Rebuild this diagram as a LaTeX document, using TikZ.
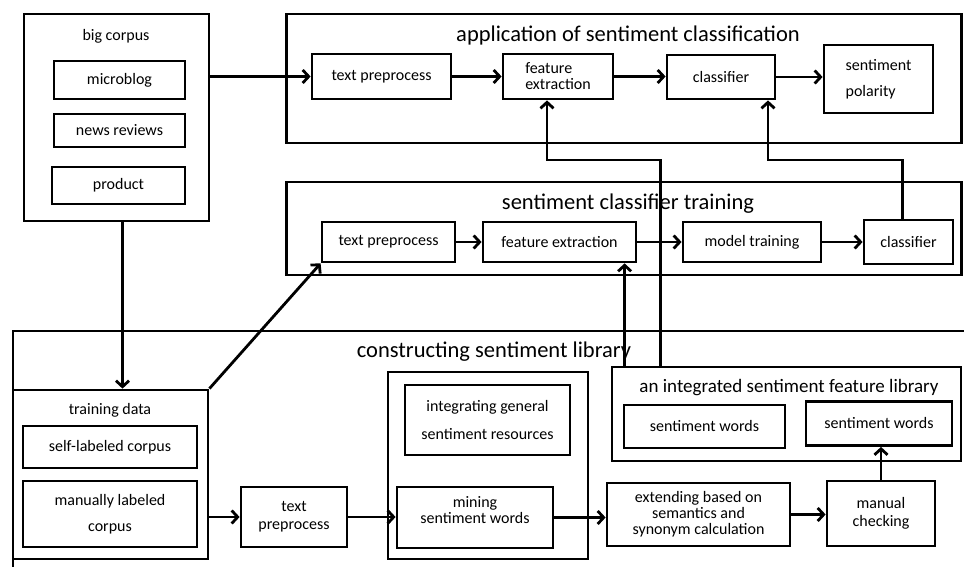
\documentclass[tikz,border=0pt]{standalone}
\usepackage{fontspec}
\setmainfont{Carlito}
\usetikzlibrary{arrows.meta}

\begin{document}
\begin{tikzpicture}[x=1pt,y=-1pt,
  box/.style={draw,line width=2.8pt,inner sep=0pt,align=center,font=\fontsize{16}{18}\selectfont},
  ttl/.style={inner sep=0pt,font=\fontsize{22.5}{26}\selectfont},
  lbl/.style={inner sep=0pt,font=\fontsize{16}{18}\selectfont},
  arr/.style={line width=2.8pt,-{Straight Barb[length=6pt,width=13pt]}}]
\useasboundingbox (0,0) rectangle (964,567);
\fill[white] (0,0) rectangle (964,567);

% big corpus
\node[box,minimum width=185pt,minimum height=207pt] (bigcorpus) at (116.5,117.5) {};
\node[lbl] (bigcorpuslbl) at (116,36) {big corpus};
\node[box,minimum width=131pt,minimum height=38pt] (microblog) at (119.5,80) {microblog};
\node[box,minimum width=131pt,minimum height=33pt] (news) at (119.5,130.5) {news reviews};
\node[box,minimum width=133pt,minimum height=37pt] (product) at (118.5,185.5) {product};

% application of sentiment classification
\node[box,minimum width=675pt,minimum height=129pt] (app) at (624,78.5) {};
\node[ttl] (applbl) at (628,36) {application of sentiment classification};
\node[box,minimum width=139pt,minimum height=45pt] (apptp) at (381.5,76.5) {text preprocess};
\node[box,minimum width=110pt,minimum height=45pt,align=left,font=\fontsize{16}{16}\selectfont] (appfe) at (558,76.5) {feature\\extraction};
\node[box,minimum width=108pt,minimum height=44pt] (appcls) at (721,77) {classifier};
\node[box,minimum width=109pt,minimum height=68pt,align=left,font=\fontsize{16}{26}\selectfont] (polarity) at (878.5,79) {sentiment\\polarity};

% sentiment classifier training
\node[box,minimum width=675pt,minimum height=93pt] (trn) at (624,228.5) {};
\node[ttl] (trnlbl) at (628,204) {sentiment classifier training};
\node[box,minimum width=133pt,minimum height=40pt] (trntp) at (388.5,242) {text preprocess};
\node[box,minimum width=153pt,minimum height=40pt] (trnfe) at (559.5,242) {feature extraction};
\node[box,minimum width=138pt,minimum height=40pt] (model) at (752,242) {model training};
\node[box,minimum width=89pt,minimum height=44pt] (trncls) at (908.5,242) {classifier};

% constructing sentiment library
\node[box,minimum width=962pt,minimum height=250pt] (lib) at (494,456) {};
\node[ttl] (liblbl) at (494,352) {constructing sentiment library};
\node[box,minimum width=195pt,minimum height=169pt] (trdata) at (110.5,474.5) {};
\node[lbl] (trdatalbl) at (110,410) {training data};
\node[box,minimum width=174pt,minimum height=42pt] (selflab) at (110,447) {self-labeled corpus};
\node[box,minimum width=174pt,minimum height=66pt,font=\fontsize{16}{26}\selectfont] (manlab) at (110,514) {manually labeled\\corpus};
\node[box,minimum width=106pt,minimum height=60pt] (libtp) at (294,517) {text\\preprocess};
\node[box,minimum width=200pt,minimum height=187pt] (minegrp) at (488,465.5) {};
\node[box,minimum width=165pt,minimum height=70pt,font=\fontsize{16}{28}\selectfont] (general) at (487.5,420) {integrating general\\sentiment resources};
\node[box,minimum width=156pt,minimum height=61pt,font=\fontsize{16}{16}\selectfont] (mining) at (475,517.5) {mining\\sentiment words\\~};
\node[box,minimum width=183pt,minimum height=63pt,font=\fontsize{16}{16}\selectfont] (extend) at (698.5,514.5) {extending based on\\semantics and\\synonym calculation};
\node[box,minimum width=108pt,minimum height=65pt] (manual) at (881,513.5) {manual\\checking};
\node[box,minimum width=349pt,minimum height=94pt] (feat) at (786.5,414) {};
\node[lbl,font=\fontsize{19}{22}\selectfont] (featlbl) at (789,388) {an integrated sentiment feature library};
\node[box,minimum width=161pt,minimum height=43pt] (sw1) at (704.5,426.5) {sentiment words};
\node[box,minimum width=146pt,minimum height=44pt] (sw2) at (879,423.5) {sentiment words};

% connectors
\coordinate (bendfe) at (600,160);
\coordinate (bendcls) at (830,160);
\draw[arr] (bigcorpus.east |- apptp) -- (apptp);
\draw[arr] (apptp) -- (appfe);
\draw[arr] (appfe.east) -- (appfe.east -| appcls.west);
\draw[arr] (appcls.east) -- (appcls.east -| polarity.west);
\draw[arr] (trntp) -- (trnfe);
\draw[arr] (trnfe) -- (model);
\draw[arr] (model.east) -- (model.east -| trncls.west);
\draw[arr] ([xshift=6pt]bigcorpus.south) -- ([xshift=6pt]bigcorpus.south |- trdata.north);
\draw[arr] (trdata.north east) -- (trntp.south west);
\draw[arr] (trdata.east |- libtp) -- (libtp);
\draw[arr] (libtp) -- (mining.west |- libtp);
\draw[arr] (mining.east) -- (mining.east -| extend.west);
\draw[arr] (extend.east) -- (extend.east -| manual.west);
\draw[arr] (manual.north) -- (manual.north |- sw2.south);
\draw[arr] ([xshift=14pt]feat.north west) -- ([xshift=14pt]feat.north west |- trnfe.south);
\draw[arr] ([xshift=50pt]feat.north west) |- (bendfe) -| ([xshift=-11pt]appfe.south);
\draw[arr] ([xshift=-6pt]trncls.north) |- (bendcls) -| ([xshift=47pt]appcls.south);
\end{tikzpicture}
\end{document}
